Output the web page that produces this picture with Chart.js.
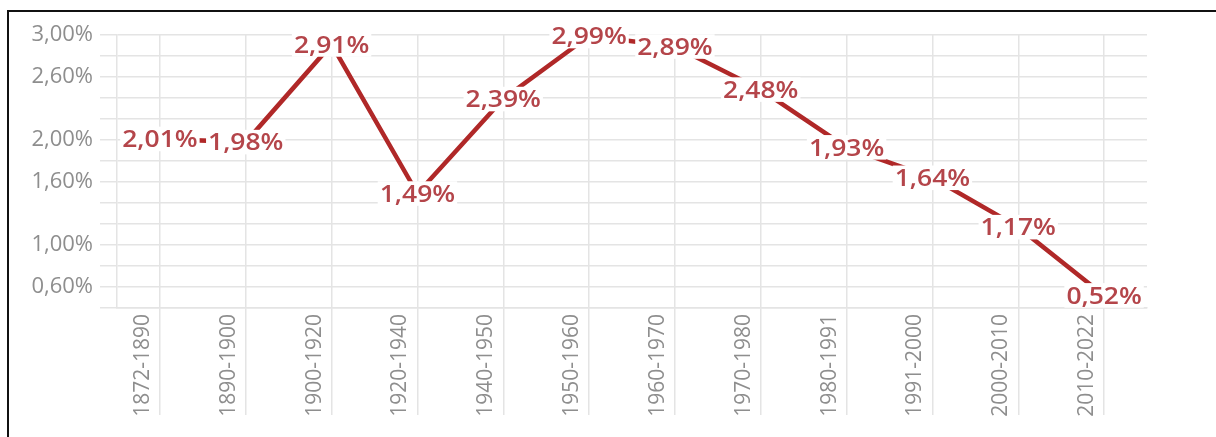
<!DOCTYPE html>
<html>
<head>
<meta charset="utf-8">
<script src="https://cdn.jsdelivr.net/npm/chart.js@4.4.1/dist/chart.umd.min.js"></script>
<style>
  html, body { margin: 0; padding: 0; background: #fff; overflow: hidden; }
  #frame {
    position: absolute; left: 7px; top: 10px; width: 1300px; height: 500px;
    border-left: 2px solid #111; border-top: 2px solid #111;
  }
  #chart { position: absolute; left: 0; top: 0; }
</style>
</head>
<body>
<div id="frame"></div>
<canvas id="chart" width="1216" height="437"></canvas>
<script>
  // Periods and average annual growth (%)
  const periods = ['1872-1890', '1890-1900', '1900-1920', '1920-1940', '1940-1950', '1950-1960',
                   '1960-1970', '1970-1980', '1980-1991', '1991-2000', '2000-2010', '2010-2022'];
  const growthRates = [2.01, 1.98, 2.91, 1.49, 2.39, 2.99, 2.89, 2.48, 1.93, 1.64, 1.17, 0.52];

  // only some of the 0.2 gridlines carry a label
  const yTickValues = [3.0, 2.6, 2.0, 1.6, 1.0, 0.6];
  const yMin = 0.4;
  const yMax = 3.0;

  const lineColor = '#b02828';
  const labelColor = '#b4454a';
  const gridColor = '#e4e4e4';
  const tickColor = '#8e8e8e';

  function fmtPct(v) {
    return v.toFixed(2).replace('.', ',') + '%';
  }

  // value labels sit centred on each point, knocking out the line behind them
  const pointLabels = {
    id: 'pointLabels',
    afterDatasetsDraw(chart) {
      const ctx = chart.ctx;
      const meta = chart.getDatasetMeta(0);
      const size = 23;
      const stretch = 1.15;
      ctx.save();
      ctx.font = '600 ' + size + 'px "Open Sans"';
      ctx.textAlign = 'center';
      ctx.textBaseline = 'alphabetic';
      meta.data.forEach(function (pt, i) {
        const txt = fmtPct(chart.data.datasets[0].data[i]);
        const w = ctx.measureText(txt).width * stretch;
        const cap = size * 0.72;
        ctx.fillStyle = '#fff';
        ctx.fillRect(pt.x - w / 2 - 2, pt.y - cap / 2 - 4, w + 4, cap + 8);
        ctx.save();
        ctx.translate(pt.x, pt.y + cap / 2);
        ctx.scale(stretch, 1);
        ctx.fillStyle = labelColor;
        ctx.fillText(txt, 0, 0);
        ctx.restore();
      });
      ctx.restore();
    }
  };

  new Chart(document.getElementById('chart'), {
    type: 'line',
    data: {
      labels: periods,
      datasets: [{
        data: growthRates,
        borderColor: lineColor,
        borderWidth: 4.5,
        tension: 0,
        pointRadius: 0,
        fill: false
      }]
    },
    options: {
      responsive: false,
      devicePixelRatio: 1,
      animation: false,
      layout: { padding: { left: 0, right: 69, top: 35, bottom: 0 } },
      plugins: {
        legend: { display: false },
        tooltip: { enabled: false }
      },
      scales: {
        x: {
          offset: true,
          grid: { color: gridColor, lineWidth: 1.5, offset: false, tickLength: 107 },
          border: { color: gridColor, width: 1.5 },
          ticks: {
            color: tickColor,
            font: { family: 'Open Sans', size: 21 },
            minRotation: 90,
            maxRotation: 90,
            autoSkip: false,
            padding: -101,
            labelOffset: -17
          },
          afterFit(scale) { scale.height = 129; }
        },
        y: {
          min: yMin,
          max: yMax,
          grid: { color: gridColor, lineWidth: 1.5, tickLength: 17 },
          border: { color: gridColor, width: 1.5 },
          ticks: {
            stepSize: 0.2,
            maxTicksLimit: 20,
            autoSkip: false,
            color: tickColor,
            font: { family: 'Open Sans', size: 22 },
            padding: 7,
            callback: function (value) {
              const hit = yTickValues.some(function (t) { return Math.abs(t - value) < 1e-6; });
              return hit ? fmtPct(value) : '';
            }
          },
          afterFit(scale) { scale.width = 117; }
        }
      }
    },
    plugins: [pointLabels]
  });
</script>
</body>
</html>
